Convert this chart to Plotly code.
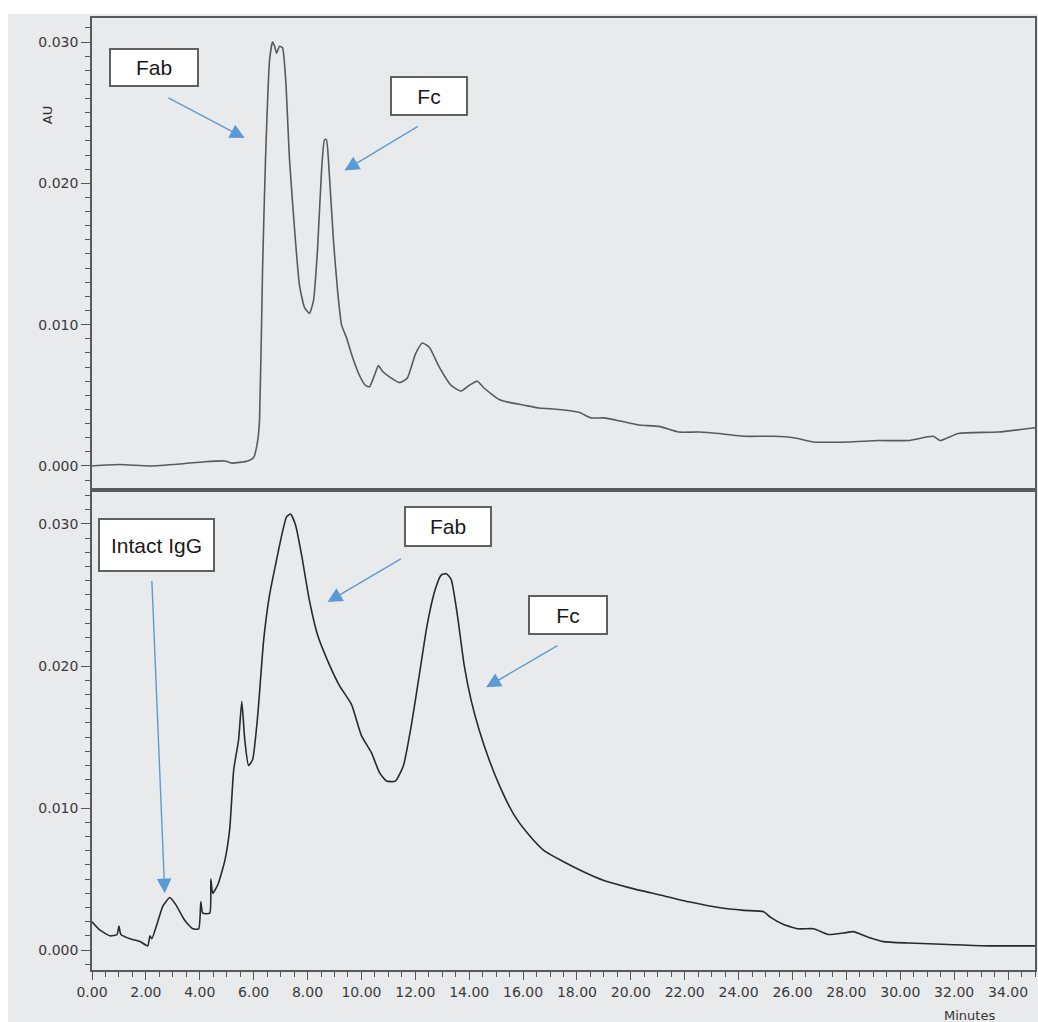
import plotly.graph_objects as go

# ---- data (minutes, AU) ----
top_time = [0.00, 1.04, 2.15, 3.26, 4.19, 4.93, 5.19, 5.78, 6.00, 6.15, 6.22, 6.33, 6.44, 6.59, 6.70,
            6.78, 6.85, 6.96, 7.07, 7.19, 7.33, 7.52, 7.70, 7.89, 8.07, 8.22, 8.37, 8.52, 8.63, 8.70,
            8.81, 8.96, 9.11, 9.26, 9.44, 9.67, 9.93, 10.15, 10.30, 10.48, 10.63, 10.78, 11.04, 11.41,
            11.70, 12.00, 12.26, 12.52, 12.89, 13.33, 13.70, 14.00, 14.30, 14.56, 15.11, 15.48, 16.04,
            16.59, 17.33, 18.07, 18.52, 19.00, 19.56, 20.30, 21.04, 21.78, 22.52, 23.26, 24.19, 25.30,
            26.04, 26.78, 28.07, 29.19, 30.30, 31.22, 31.48, 32.15, 33.63, 35.00]
top_au = [0.0000, 0.0001, 0.0000, 0.00014, 0.0003, 0.00035, 0.0002, 0.00035, 0.0006, 0.0018, 0.0033,
          0.0139, 0.0217, 0.0287, 0.0300, 0.0297, 0.0292, 0.0297, 0.0296, 0.0273, 0.0217, 0.0167,
          0.0128, 0.0112, 0.0108, 0.0117, 0.0153, 0.0209, 0.0231, 0.0231, 0.0206, 0.0160, 0.0125,
          0.0100, 0.0091, 0.0077, 0.0064, 0.0057, 0.0056, 0.0064, 0.0071, 0.0067, 0.0063, 0.0059,
          0.0062, 0.0079, 0.0087, 0.0084, 0.0070, 0.0057, 0.0053, 0.0057, 0.0060, 0.0055, 0.0047,
          0.0045, 0.0043, 0.0041, 0.0040, 0.0038, 0.0034, 0.0034, 0.0032, 0.0029, 0.0028, 0.0024,
          0.0024, 0.0023, 0.0021, 0.0021, 0.0020, 0.0017, 0.0017, 0.0018, 0.0018, 0.0021, 0.0018,
          0.0023, 0.0024, 0.0027]

bot_time = [0.00, 0.30, 0.67, 0.93, 1.00, 1.07, 1.41, 1.78, 2.07, 2.15, 2.22, 2.44, 2.63, 2.89, 3.11,
            3.44, 3.74, 3.96, 4.04, 4.11, 4.37, 4.41, 4.48, 4.67, 4.93, 5.11, 5.26, 5.44, 5.56, 5.67,
            5.81, 5.96, 6.15, 6.37, 6.59, 6.81, 7.04, 7.22, 7.37, 7.56, 7.78, 8.07, 8.37, 8.74, 9.19,
            9.63, 10.00, 10.37, 10.67, 10.93, 11.26, 11.56, 11.85, 12.15, 12.44, 12.74, 12.96, 13.15,
            13.33, 13.56, 13.81, 14.07, 14.37, 14.74, 15.19, 15.67, 16.22, 16.78, 17.52, 18.26, 19.00,
            19.93, 21.04, 22.15, 23.26, 24.19, 24.93, 25.19, 25.67, 26.22, 26.78, 27.33, 27.89, 28.26,
            28.81, 29.37, 30.30, 31.78, 33.26, 35.00]
bot_au = [0.0020, 0.0014, 0.0010, 0.0011, 0.0017, 0.0011, 0.0008, 0.0006, 0.0003, 0.0010, 0.0008,
          0.0020, 0.0031, 0.0037, 0.0032, 0.0021, 0.0015, 0.0015, 0.0034, 0.0026, 0.0026, 0.0050,
          0.0040, 0.0046, 0.0063, 0.0085, 0.0127, 0.0148, 0.0175, 0.0148, 0.0130, 0.0134, 0.0165,
          0.0218, 0.0250, 0.0271, 0.0292, 0.0305, 0.0307, 0.0299, 0.0278, 0.0246, 0.0222, 0.0204,
          0.0186, 0.0173, 0.0151, 0.0139, 0.0125, 0.0119, 0.0119, 0.0130, 0.0158, 0.0194, 0.0229,
          0.0254, 0.0264, 0.0265, 0.0261, 0.0236, 0.0201, 0.0176, 0.0155, 0.0134, 0.0113, 0.0095,
          0.0081, 0.0070, 0.0062, 0.0055, 0.0049, 0.0044, 0.0039, 0.0034, 0.0030, 0.0028, 0.0027,
          0.0023, 0.0018, 0.0015, 0.0015, 0.0011, 0.0012, 0.0013, 0.0009, 0.0006, 0.0005, 0.0004,
          0.0003, 0.0003]

x_tick_vals = [0, 2, 4, 6, 8, 10, 12, 14, 16, 18, 20, 22, 24, 26, 28, 30, 32, 34]
y_tick_vals = [0.0, 0.010, 0.020, 0.030]

# annotations: (label, box x, box y, arrow tail x, tail y, head x, head y, box width, box height)
top_labels = [("Fab", 2.30, 0.0282, 2.78, 0.0261, 5.67, 0.0232, 86, 35),
              ("Fc", 12.52, 0.0262, 12.15, 0.0241, 9.37, 0.0209, 74, 36)]
bot_labels = [("Intact IgG", 2.41, 0.0285, 2.22, 0.0261, 2.70, 0.0040, 113, 50),
              ("Fab", 13.22, 0.0298, 11.52, 0.0276, 8.74, 0.0245, 84, 37),
              ("Fc", 17.67, 0.0236, 17.33, 0.0215, 14.63, 0.0185, 76, 36)]

BG = "#e9eaec"
FONT = "Liberation Sans, Arial, sans-serif"
TICKFONT = "DejaVu Sans, sans-serif"
ARROW = "#5b9bd5"

fig = go.Figure()
fig.add_trace(go.Scatter(x=top_time, y=top_au, mode="lines", xaxis="x", yaxis="y",
                         line=dict(color="#5a5a5a", width=1.6, shape="spline", smoothing=0.5),
                         showlegend=False))
fig.add_trace(go.Scatter(x=bot_time, y=bot_au, mode="lines", xaxis="x2", yaxis="y2",
                         line=dict(color="#2a2a2a", width=1.6, shape="spline", smoothing=0.5),
                         showlegend=False))

axis_common = dict(showline=True, linecolor="#5a5a5a", linewidth=1.5, mirror=True,
                   showgrid=False, zeroline=False)
yaxis_common = dict(axis_common, tickvals=y_tick_vals, tickformat=".3f", ticks="outside",
                    ticklen=9, tickwidth=1.2, tickcolor="#555555",
                    minor=dict(dtick=0.001, ticks="outside", ticklen=5, tickcolor="#555555"),
                    tickfont=dict(family=TICKFONT, size=14, color="#3a3a3a"))

fig.update_layout(
    width=1038, height=1022,
    margin=dict(l=92, r=1, t=18, b=52),
    paper_bgcolor=BG, plot_bgcolor=BG,
    xaxis=dict(axis_common, domain=[0, 1], range=[0, 35], anchor="y", matches="x2",
               showticklabels=False, ticks=""),
    yaxis=dict(yaxis_common, domain=[0.5063, 1], range=[-0.00156, 0.0317], anchor="x"),
    xaxis2=dict(axis_common, domain=[0, 1], range=[0, 35], anchor="y2",
                tickvals=x_tick_vals, tickformat=".2f", ticks="outside", ticklen=8,
                tickwidth=1.2, tickcolor="#555555",
                minor=dict(dtick=0.5, ticks="outside", ticklen=5, tickcolor="#555555"),
                tickfont=dict(family=TICKFONT, size=14, color="#3a3a3a")),
    yaxis2=dict(yaxis_common, domain=[0, 0.5021], range=[-0.0014, 0.03225], anchor="x2"),
)

# white strips at top and left edge of the image
fig.add_shape(type="rect", xref="paper", yref="paper", x0=-0.0974, x1=1.01, y0=1.0042, y1=1.02,
              fillcolor="white", line=dict(width=0), layer="below")
fig.add_shape(type="rect", xref="paper", yref="paper", x0=-0.0974, x1=-0.0889, y0=-0.06, y1=1.02,
              fillcolor="white", line=dict(width=0), layer="below")

anns = []
for labels, xr, yr in [(top_labels, "x", "y"), (bot_labels, "x2", "y2")]:
    for text, bx, by, tx, ty, hx, hy, w, h in labels:
        anns.append(dict(x=hx, y=hy, ax=tx, ay=ty, xref=xr, yref=yr, axref=xr, ayref=yr,
                         text="", showarrow=True, arrowhead=2, arrowsize=2.1, arrowwidth=1.4,
                         arrowcolor=ARROW))
        anns.append(dict(x=bx, y=by, xref=xr, yref=yr, text=text, showarrow=False,
                         bgcolor="white", bordercolor="#606060", borderwidth=2, borderpad=0,
                         width=w, height=h,
                         font=dict(family=FONT, size=21, color="#1a1a1a")))
anns.append(dict(x=-0.0476, y=0.898, xref="paper", yref="paper", text="AU", textangle=-90,
                 xanchor="center", yanchor="middle",
                 showarrow=False, font=dict(family=TICKFONT, size=13, color="#333333")))
anns.append(dict(x=0.931, y=-0.0473, xref="paper", yref="paper", text="Minutes",
                 xanchor="center", yanchor="middle",
                 showarrow=False, font=dict(family=TICKFONT, size=13, color="#333333")))
fig.update_layout(annotations=anns)

fig.write_html("out.html", post_script="document.body.style.margin='0';",
               config={"displayModeBar": False})
